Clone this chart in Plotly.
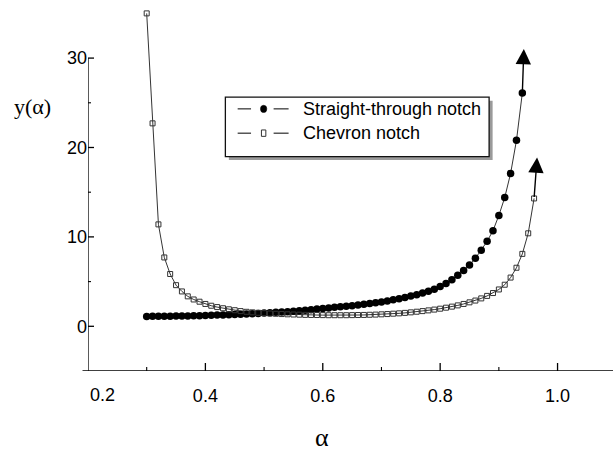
import plotly.graph_objects as go

# ---------------- data ----------------
alpha_straight = [0.30, 0.31, 0.32, 0.33, 0.34, 0.35, 0.36, 0.37, 0.38, 0.39,
                  0.40, 0.41, 0.42, 0.43, 0.44, 0.45, 0.46, 0.47, 0.48, 0.49,
                  0.50, 0.51, 0.52, 0.53, 0.54, 0.55, 0.56, 0.57, 0.58, 0.59,
                  0.60, 0.61, 0.62, 0.63, 0.64, 0.65, 0.66, 0.67, 0.68, 0.69,
                  0.70, 0.71, 0.72, 0.73, 0.74, 0.75, 0.76, 0.77, 0.78, 0.79,
                  0.80, 0.81, 0.82, 0.83, 0.84, 0.85, 0.86, 0.87, 0.88, 0.89,
                  0.90, 0.91, 0.92, 0.93, 0.94]
y_straight = [1.10, 1.11, 1.11, 1.12, 1.13, 1.14, 1.15, 1.16, 1.18, 1.19,
              1.21, 1.23, 1.25, 1.27, 1.29, 1.32, 1.35, 1.38, 1.41, 1.44,
              1.48, 1.52, 1.56, 1.60, 1.64, 1.69, 1.74, 1.80, 1.86, 1.93,
              2.00, 2.06, 2.12, 2.18, 2.24, 2.31, 2.38, 2.46, 2.54, 2.63,
              2.73, 2.84, 2.96, 3.09, 3.23, 3.38, 3.54, 3.72, 3.92, 4.15,
              4.45, 4.80, 5.20, 5.70, 6.25, 6.85, 7.60, 8.50, 9.50, 10.70,
              12.40, 14.40, 17.10, 20.80, 26.10]

alpha_chevron = [0.30, 0.31, 0.32, 0.33, 0.34, 0.35, 0.36, 0.37, 0.38, 0.39,
                 0.40, 0.41, 0.42, 0.43, 0.44, 0.45, 0.46, 0.47, 0.48, 0.49,
                 0.50, 0.51, 0.52, 0.53, 0.54, 0.55, 0.56, 0.57, 0.58, 0.59,
                 0.60, 0.61, 0.62, 0.63, 0.64, 0.65, 0.66, 0.67, 0.68, 0.69,
                 0.70, 0.71, 0.72, 0.73, 0.74, 0.75, 0.76, 0.77, 0.78, 0.79,
                 0.80, 0.81, 0.82, 0.83, 0.84, 0.85, 0.86, 0.87, 0.88, 0.89,
                 0.90, 0.91, 0.92, 0.93, 0.94, 0.95, 0.96]
y_chevron = [35.0, 22.7, 11.4, 7.70, 5.85, 4.60, 3.90, 3.35, 3.00, 2.75,
             2.50, 2.30, 2.15, 2.02, 1.90, 1.80, 1.70, 1.62, 1.56, 1.51,
             1.47, 1.43, 1.40, 1.37, 1.34, 1.32, 1.30, 1.28, 1.27, 1.26,
             1.25, 1.24, 1.24, 1.24, 1.24, 1.25, 1.26, 1.27, 1.29, 1.31,
             1.34, 1.37, 1.41, 1.45, 1.50, 1.56, 1.63, 1.70, 1.78, 1.87,
             1.97, 2.08, 2.20, 2.34, 2.50, 2.68, 2.88, 3.12, 3.40, 3.72,
             4.12, 4.65, 5.45, 6.55, 8.10, 10.40, 14.30]

series_names = ["Straight-through notch", "Chevron notch"]
x_ticks = [0.2, 0.4, 0.6, 0.8, 1.0]
x_tick_labels = ["0.2", "0.4", "0.6", "0.8", "1.0"]
x_minor_ticks = [0.3, 0.5, 0.7, 0.9]
y_ticks = [0, 10, 20, 30]
y_tick_labels = ["0", "10", "20", "30"]
y_minor_ticks = [5, 15, 25]

# ---------------- layout constants ----------------
W, H = 613, 453
ML, MR, MT, MB = 87.5, 0, 0, 81.6
PW, PH = W - ML - MR, H - MT - MB

FONT = "Liberation Sans, Arial, sans-serif"
SERIF = "Liberation Serif, Times New Roman, serif"

X_RANGE = [0.2, 0.2 + PW / 587.5]
Y_RANGE = [-5, -5 + PH / 8.95]


def px(xp):
    return (xp - ML) / PW


def py(yp):
    return 1 - (yp - MT) / PH


fig = go.Figure()

fig.add_trace(go.Scatter(
    x=alpha_straight, y=y_straight, name=series_names[0],
    mode="lines+markers",
    line=dict(color="black", width=0.8),
    marker=dict(symbol="circle", size=7.5, color="black"),
    cliponaxis=False, showlegend=False,
))
fig.add_trace(go.Scatter(
    x=alpha_chevron, y=y_chevron, name=series_names[1],
    mode="lines+markers",
    line=dict(color="black", width=0.8),
    marker=dict(symbol="square-open", size=5, color="#333333",
                line=dict(width=1, color="#333333")),
    cliponaxis=False, showlegend=False,
))

shapes = []
# axis lines (y axis line stops at the top tick)
shapes.append(dict(type="line", xref="x", yref="y",
                   x0=X_RANGE[0], x1=X_RANGE[0], y0=Y_RANGE[0], y1=y_ticks[-1],
                   line=dict(color="black", width=1.3)))
shapes.append(dict(type="line", xref="paper", yref="y",
                   x0=px(82), x1=1.0, y0=Y_RANGE[0], y1=Y_RANGE[0],
                   line=dict(color="black", width=1.3)))

# inward tick marks, placed at the axis values
for vals, ln, w in [(x_ticks[1:], 8, 1.3), (x_minor_ticks, 4, 1.1)]:
    for v in vals:
        shapes.append(dict(type="line", xref="x", yref="paper",
                           ysizemode="pixel", yanchor=0,
                           x0=v, x1=v, y0=0, y1=ln,
                           line=dict(color="black", width=w)))
for vals, ln, w in [(y_ticks, 6, 1.3), (y_minor_ticks, 3, 1.1)]:
    for v in vals:
        shapes.append(dict(type="line", xref="paper", yref="y",
                           xsizemode="pixel", xanchor=0,
                           x0=0, x1=ln, y0=v, y1=v,
                           line=dict(color="black", width=w)))

# ---- hand-drawn legend box with shadow ----
BX0, BX1, BY0, BY1 = 225, 489, 97.3, 156.7
SH = 3.5
shapes.append(dict(type="rect", xref="paper", yref="paper",
                   x0=px(BX0 + SH), x1=px(BX1 + SH), y0=py(BY0 + SH), y1=py(BY1 + SH),
                   fillcolor="#9a9a9a", line=dict(width=0)))
shapes.append(dict(type="rect", xref="paper", yref="paper",
                   x0=px(BX0), x1=px(BX1), y0=py(BY0), y1=py(BY1),
                   fillcolor="white", line=dict(color="#111111", width=1.3)))
row_y = [109, 133.3]
for i, ry in enumerate(row_y):
    for (a, b) in [(237.3, 250.7), (273.3, 288.3)]:
        shapes.append(dict(type="line", xref="paper", yref="paper",
                           x0=px(a), x1=px(b), y0=py(ry), y1=py(ry),
                           line=dict(color="black", width=1)))
    if i == 0:
        shapes.append(dict(type="circle", xref="paper", yref="paper",
                           xsizemode="pixel", ysizemode="pixel",
                           xanchor=px(263.3), yanchor=py(ry),
                           x0=-3.2, x1=3.2, y0=-3.6, y1=3.6,
                           fillcolor="black", line=dict(color="black", width=0.5)))
    else:
        shapes.append(dict(type="rect", xref="paper", yref="paper",
                           xsizemode="pixel", ysizemode="pixel",
                           xanchor=px(263.3), yanchor=py(ry),
                           x0=-2.2, x1=2.2, y0=-3.2, y1=3.2,
                           fillcolor="white", line=dict(color="#333333", width=1)))
    fig.add_annotation(text=series_names[i], xref="paper", yref="paper",
                       x=px(300.5), y=py(ry), xanchor="left", yanchor="middle",
                       showarrow=False,
                       font=dict(family=FONT, size=18, color="black"))

# arrows at the end of each curve
for xs, ys, dx, dy in [(alpha_straight, y_straight, 1.5, 44),
                       (alpha_chevron, y_chevron, 3, 41)]:
    fig.add_annotation(
        x=xs[-1], y=ys[-1], xref="x", yref="y",
        ax=-dx, ay=dy, axref="pixel", ayref="pixel",
        xshift=dx, yshift=dy,
        text="", showarrow=True,
        arrowhead=2, arrowsize=2.2, arrowwidth=1.4, arrowcolor="black",
    )

# first x tick label sits a little right of its tick in the reference
fig.add_annotation(text=x_tick_labels[0], xref="x", yref="paper",
                   x=x_ticks[0], y=0, xshift=14, yshift=-24,
                   xanchor="center", yanchor="middle", showarrow=False,
                   font=dict(family=FONT, size=18, color="black"))

# axis titles
fig.add_annotation(text="y(α)", xref="paper", yref="paper",
                   x=px(32), y=py(107), xanchor="center", yanchor="middle",
                   showarrow=False, font=dict(family=SERIF, size=22, color="black"))
fig.add_annotation(text="α", xref="paper", yref="paper",
                   x=px(322), y=py(438), xanchor="center", yanchor="middle",
                   showarrow=False, font=dict(family=SERIF, size=26, color="black"))

fig.update_layout(
    width=W, height=H,
    margin=dict(l=ML, r=MR, t=MT, b=MB, autoexpand=False),
    paper_bgcolor="white", plot_bgcolor="white",
    font=dict(family=FONT, size=18, color="black"),
    showlegend=False,
    shapes=shapes,
    xaxis=dict(
        range=X_RANGE, showgrid=False, zeroline=False, showline=False,
        tickmode="array", tickvals=x_ticks[1:], ticktext=x_tick_labels[1:],
        ticks="",
        tickfont=dict(family=FONT, size=18, color="black"),
        ticklabelstandoff=12,
        automargin=False,
    ),
    yaxis=dict(
        range=Y_RANGE, showgrid=False, zeroline=False, showline=False,
        tickmode="array", tickvals=y_ticks, ticktext=y_tick_labels,
        ticks="",
        tickfont=dict(family=FONT, size=18, color="black"),
        automargin=False,
    ),
)

fig.write_html(
    "out.html",
    config={"displayModeBar": False},
    post_script="document.body.style.margin='0';document.body.style.overflow='hidden';",
)
